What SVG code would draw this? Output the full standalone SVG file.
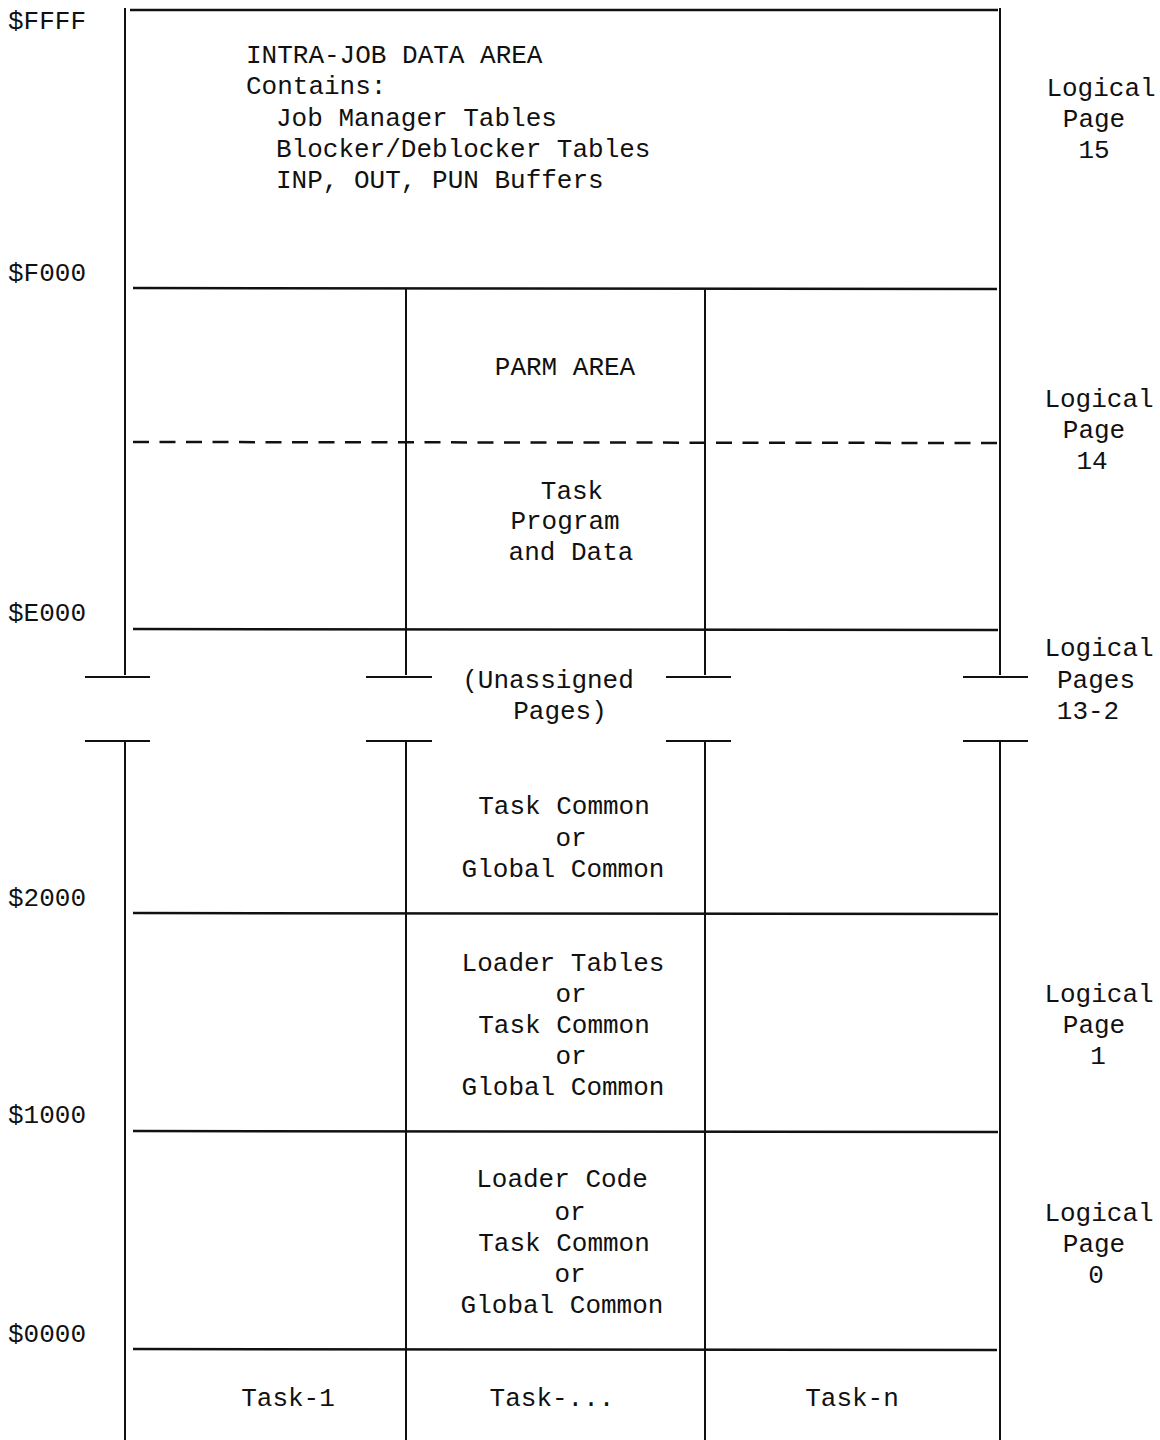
<svg xmlns="http://www.w3.org/2000/svg" width="1160" height="1440" viewBox="0 0 1160 1440">
<style>
text{font-family:"Liberation Mono","DejaVu Sans Mono",monospace;font-size:26px;fill:#111}
.m{text-anchor:middle}
.ln{stroke:#111;stroke-width:2;fill:none}
.h{stroke:#111;stroke-width:2.5;fill:none}
.d{stroke:#111;stroke-width:2.5;stroke-dasharray:16 10.5;fill:none}
</style>
<rect width="1160" height="1440" fill="#fff"/>
<g id="connectors">
<line class="ln" x1="125" y1="8" x2="125" y2="675"/>
<line class="ln" x1="125" y1="741" x2="125" y2="1440"/>
<line class="ln" x1="406" y1="288" x2="406" y2="675"/>
<line class="ln" x1="406" y1="741" x2="406" y2="1440"/>
<line class="ln" x1="705" y1="288" x2="705" y2="675"/>
<line class="ln" x1="705" y1="741" x2="705" y2="1440"/>
<line class="ln" x1="1000" y1="8" x2="1000" y2="675"/>
<line class="ln" x1="1000" y1="741" x2="1000" y2="1440"/>
<line class="h" x1="130" y1="10" x2="998" y2="10"/>
<line class="h" x1="133" y1="288" x2="997" y2="289"/>
<line class="d" x1="133" y1="442" x2="997" y2="443"/>
<line class="h" x1="133" y1="629" x2="998" y2="630"/>
<line class="h" x1="133" y1="913" x2="998" y2="914"/>
<line class="h" x1="133" y1="1131" x2="998" y2="1132"/>
<line class="h" x1="133" y1="1349" x2="997" y2="1350" stroke-width="3"/>
<line class="ln" x1="85" y1="677" x2="150" y2="677"/>
<line class="ln" x1="366" y1="677" x2="432" y2="677"/>
<line class="ln" x1="666" y1="677" x2="731" y2="677"/>
<line class="ln" x1="963" y1="677" x2="1028" y2="677"/>
<line class="ln" x1="85" y1="741" x2="150" y2="741"/>
<line class="ln" x1="366" y1="741" x2="432" y2="741"/>
<line class="ln" x1="666" y1="741" x2="731" y2="741"/>
<line class="ln" x1="963" y1="741" x2="1028" y2="741"/>
</g>
<g id="addresses">
<text x="8" y="29">$FFFF</text>
<text x="8" y="281">$F000</text>
<text x="8" y="621">$E000</text>
<text x="8" y="906">$2000</text>
<text x="8" y="1123">$1000</text>
<text x="8" y="1342">$0000</text>
</g>
<g id="intra-job">
<text x="246" y="63">INTRA-JOB DATA AREA</text>
<text x="246" y="94">Contains:</text>
<text x="276" y="126">Job Manager Tables</text>
<text x="276" y="157">Blocker/Deblocker Tables</text>
<text x="276" y="188">INP, OUT, PUN Buffers</text>
</g>
<g id="parm">
<text class="m" x="565" y="375">PARM AREA</text>
</g>
<g id="task-program">
<text class="m" x="572" y="499">Task</text>
<text class="m" x="565" y="529">Program</text>
<text class="m" x="571" y="560">and Data</text>
</g>
<g id="unassigned">
<text class="m" x="548" y="688">(Unassigned</text>
<text class="m" x="560" y="719">Pages)</text>
</g>
<g id="task-common">
<text class="m" x="564" y="814">Task Common</text>
<text class="m" x="571" y="846">or</text>
<text class="m" x="563" y="877">Global Common</text>
</g>
<g id="loader-tables">
<text class="m" x="563" y="971">Loader Tables</text>
<text class="m" x="571" y="1002">or</text>
<text class="m" x="564" y="1033">Task Common</text>
<text class="m" x="571" y="1064">or</text>
<text class="m" x="563" y="1095">Global Common</text>
</g>
<g id="loader-code">
<text class="m" x="562" y="1187">Loader Code</text>
<text class="m" x="570" y="1220">or</text>
<text class="m" x="564" y="1251">Task Common</text>
<text class="m" x="570" y="1282">or</text>
<text class="m" x="562" y="1313">Global Common</text>
</g>
<g id="tasks">
<text class="m" x="288" y="1406">Task-1</text>
<text class="m" x="552" y="1406">Task-...</text>
<text class="m" x="852" y="1406">Task-n</text>
</g>
<g id="pages">
<text class="m" x="1101" y="96">Logical</text>
<text class="m" x="1094" y="127">Page</text>
<text class="m" x="1094" y="158">15</text>
<text class="m" x="1099" y="407">Logical</text>
<text class="m" x="1094" y="438">Page</text>
<text class="m" x="1092" y="469">14</text>
<text class="m" x="1099" y="656">Logical</text>
<text class="m" x="1096" y="688">Pages</text>
<text class="m" x="1088" y="719">13-2</text>
<text class="m" x="1099" y="1002">Logical</text>
<text class="m" x="1094" y="1033">Page</text>
<text class="m" x="1098" y="1064">1</text>
<text class="m" x="1099" y="1221">Logical</text>
<text class="m" x="1094" y="1252">Page</text>
<text class="m" x="1096" y="1283">0</text>
</g>
</svg>
